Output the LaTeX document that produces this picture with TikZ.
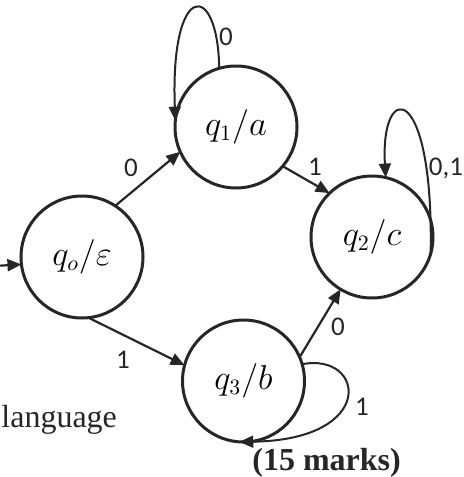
\documentclass[tikz,border=0pt]{standalone}
\usepackage[no-math]{fontspec}
\setmainfont{Liberation Serif}
\newfontfamily\lblfont{Carlito}
\usetikzlibrary{arrows.meta}
\tikzset{
  state/.style={circle, draw=black!85, line width=1.5pt, minimum size=61pt, inner sep=0pt, outer sep=0pt,
    font=\fontsize{16}{19}\selectfont},
  edge/.style={draw=black!85, line width=1.1pt, -{Triangle[length=7pt,width=6pt]}},
  loopedge/.style={draw=black!85, line width=1pt, -{Triangle[length=7pt,width=6pt]}},
  lbl/.style={font=\lblfont\fontsize{13.5}{16}\selectfont, inner sep=0pt, text=black!85},
  txt/.style={font=\fontsize{16}{19}\selectfont, inner sep=0pt, text=black!85}
}
\begin{document}
\begin{tikzpicture}[x=0.5pt, y=-0.5pt]
\useasboundingbox (0,0) rectangle (464,477);
% states
\node[state] (q0) at (82,257) {$q_o/\varepsilon$};
\node[state] (q1) at (236,127) {$q_1/a$};
\node[state] (q2) at (372,237) {$q_2/c$};
\node[state] (q3) at (243.5,381) {$q_3/b$};
% initial arrow
\coordinate (init) at (-6,266);
\draw[edge] (init) -- (q0.187);
% transitions
\draw[edge] (q0.57) -- (q1.204.8);
\draw[edge] (q0.276) -- (q3.165);
\draw[edge] (q1.320) -- (q2.134.4);
\draw[edge] (q3.23.8) -- (q2.239.5);
% loops
\draw[loopedge] (q1.106.4) .. controls (218,-20) and (170,-20) .. (q1.174.3);
\draw[loopedge] (q2.-16) .. controls (434,80) and (380,80) .. (q2.77.6);
\draw[loopedge] (q3.16.2) .. controls (365,352) and (378,440) .. (q3.266.7);
% labels
\node[lbl] (l01) at (131,168) {0};
\node[lbl] (l03) at (123,360) {1};
\node[lbl] (l12) at (315,167) {1};
\node[lbl] (l32) at (338,327) {0};
\node[lbl] (l11) at (226,37) {0};
\node[lbl] (l22) at (446,168) {0,1};
\node[lbl] (l33) at (362,407) {1};
% surrounding text
\node[txt, anchor=base west] (lang) at (1,427) {language};
\node[txt, anchor=base west] (marks) at (252,470) {\bfseries (15 marks)};
\end{tikzpicture}
\end{document}
